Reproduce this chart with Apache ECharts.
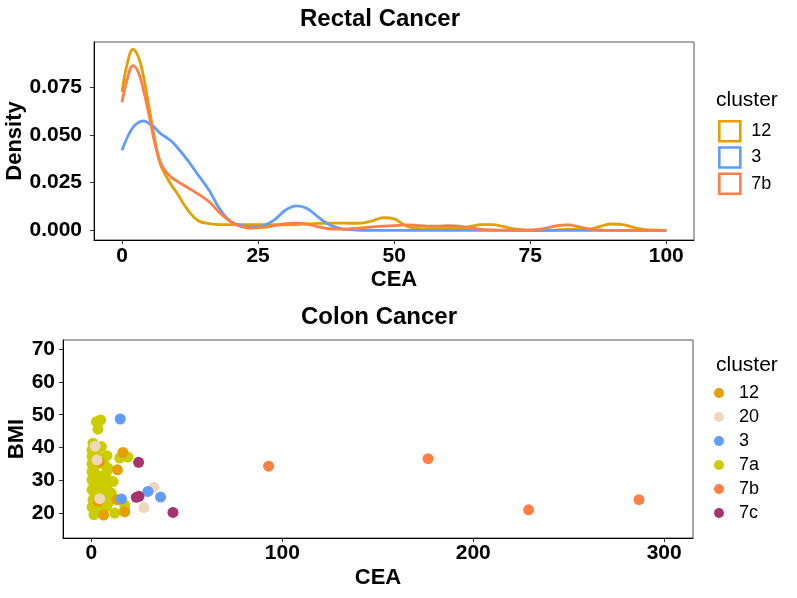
<!DOCTYPE html>
<html>
<head>
<meta charset="utf-8">
<title>Rectal / Colon Cancer</title>
<script src="https://cdn.jsdelivr.net/npm/echarts@6/dist/echarts.min.js"></script>
<style>
  html, body { margin: 0; padding: 0; background: #fff; }
  #main { width: 797px; height: 598px; }
</style>
</head>
<body>
<div id="main"></div>
<script>
// ---- top panel: density of CEA, rectal cancer ----
var ceaGrid = [0,1,2,3,4,5,6,7,8,9,10,12,14,16,18,20,22,24,26,28,30,32,34,36,38,40,42,44,46,48,50,
  52,54,56,58,60,62,64,66,68,70,72,74,76,78,80,82,84,86,88,90,92,94,96,98,100];
var dens12 = [0.0728,0.088,0.095,0.091,0.080,0.064,0.048,0.035,0.029,0.024,0.020,0.011,0.005,0.0035,0.003,0.003,
  0.003,0.003,0.003,0.003,0.0028,0.003,0.0033,0.0036,0.0038,0.0038,0.0037,0.0038,0.005,0.0066,0.006,
  0.0025,0.001,0.0008,0.001,0.0012,0.0012,0.002,0.003,0.003,0.002,0.0008,0.0002,0,0,0.0002,0.0005,0.0004,
  0.0006,0.0022,0.0033,0.003,0.0015,0.0004,0.0001,0];
var dens3 = [0.042,0.049,0.054,0.0567,0.0574,0.056,0.054,0.051,0.049,0.047,0.044,0.037,0.029,0.021,0.011,0.0045,
  0.0025,0.0018,0.0025,0.0055,0.0105,0.0128,0.0115,0.007,0.003,0.001,0.0003,0,0,0,0,
  0,0,0,0,0,0,0,0,0,0,0,0,0,0,0,0,0,0,0,0,0,0,0,0,0];
var dens7b = [0.0672,0.080,0.0865,0.083,0.073,0.060,0.046,0.036,0.031,0.028,0.026,0.0225,0.019,0.015,0.009,0.0045,
  0.0018,0.0012,0.0015,0.0025,0.0035,0.0038,0.0033,0.0018,0.0008,0.0006,0.0008,0.0012,0.0018,0.0022,0.0024,
  0.0028,0.0026,0.0022,0.0022,0.0025,0.0022,0.0012,0.0005,0.0002,0.0001,0,0,0.0003,0.0012,0.0025,0.0028,0.0018,
  0.0006,0.0001,0,0,0,0,0,0];
var densTicksX = [0, 25, 50, 75, 100];
var densTicksY = [0, 0.025, 0.05, 0.075];

// ---- bottom panel: CEA vs BMI, colon cancer ----
var pts12 = [[16.5,38.5],[13.6,33.2],[4.3,35.6],[3.4,23.5],[6.4,19.4],[13.4,24.1],[17.4,20.4]];
var pts20 = [[2.0,40.4],[2.9,36.2],[4.3,24.4],[32.7,27.9],[27.5,21.7]];
var pts3 = [[15.1,48.7],[15.7,24.3],[29.6,26.6],[36.2,24.9]];
var pts7a = [[2.6,47.9],[4.8,48.4],[3.4,45.6],[0.8,41.3],[5.2,40.3],[0.3,39.3],[2.5,38.3],[0.3,37.3],
  [4.3,36.8],[0.8,35.7],[1.7,34.2],[8.1,37.5],[6.9,34.7],[8.7,33.7],[14.8,36.8],[19.1,37.1],[0.3,35.0],
  [0.3,32.7],[2.5,31.7],[5.2,31.2],[7.8,32.2],[0.8,29.6],[3.4,28.6],[6.0,29.1],[9.5,29.6],[11.3,29.6],
  [0.3,30.2],[0.3,27.1],[1.7,26.1],[4.3,25.6],[6.9,26.1],[8.7,26.6],[10.4,26.1],[0.8,24.1],[2.5,23.0],
  [6.0,24.1],[8.7,23.0],[10.4,24.1],[0.3,21.8],[1.7,21.0],[5.2,21.5],[7.8,22.0],[12.2,20.0],[17.4,22.5],
  [17.4,21.0],[1.3,19.5]];
var pts7b = [[92.8,34.3],[176.3,36.6],[229.0,21.0],[286.8,24.1]];
var pts7c = [[24.7,35.5],[23.5,24.8],[24.9,25.1],[42.7,20.2]];
var bmiTicks = [20, 30, 40, 50, 60, 70];
var ceaTicks = [0, 100, 200, 300];

var colors = {
  '12': '#E69F00', '20': '#EED8BA', '3': '#619CFF',
  '7a': '#CCCC00', '7b': '#FF7F45', '7c': '#A8326E'
};

var FONT = "'Liberation Sans', Arial, sans-serif";

function pairs(xs, ys) {
  var out = [];
  for (var i = 0; i < xs.length; i++) out.push([xs[i], ys[i]]);
  return out;
}

function densLine(name, key, ys) {
  return {
    name: name, type: 'line', xAxisIndex: 0, yAxisIndex: 0,
    data: pairs(ceaGrid, ys), smooth: 0.4, showSymbol: false, symbol: 'none',
    lineStyle: { color: colors[key], width: 2.8 }, itemStyle: { color: colors[key] },
    z: 3
  };
}

function dots(key, data) {
  return {
    name: key, type: 'scatter', xAxisIndex: 1, yAxisIndex: 1,
    data: data, symbolSize: 11, itemStyle: { color: colors[key], opacity: 1 }
  };
}

var tickLabel = { fontFamily: FONT, fontWeight: 'bold', fontSize: 21, color: '#000' };
var axisName = { fontFamily: FONT, fontWeight: 'bold', fontSize: 22, color: '#000' };

var myChart = echarts.init(document.getElementById('main'));
var option = {
  animation: false,
  backgroundColor: '#fff',
  grid: [
    { left: 94, top: 42, width: 600, height: 198, outerBoundsMode: 'none', containLabel: false,
      show: true, borderColor: '#555', borderWidth: 1, backgroundColor: '#fff' },
    { left: 63, top: 340, width: 630, height: 198, outerBoundsMode: 'none', containLabel: false,
      show: true, borderColor: '#555', borderWidth: 1, backgroundColor: '#fff' }
  ],
  xAxis: [
    {
      type: 'value', gridIndex: 0, min: -5.15, max: 105.1,
      name: 'CEA', nameLocation: 'middle', nameGap: 29, nameMoveOverlap: false, nameTextStyle: axisName,
      axisLine: { onZero: false, lineStyle: { color: '#000', width: 1 } },
      axisTick: { customValues: densTicksX, length: 4, lineStyle: { color: '#333' } },
      axisLabel: Object.assign({ customValues: densTicksX, margin: 6 }, tickLabel),
      splitLine: { show: false }
    },
    {
      type: 'value', gridIndex: 1, min: -14.9, max: 315.1,
      name: 'CEA', nameLocation: 'middle', nameGap: 29, nameMoveOverlap: false, nameTextStyle: axisName,
      axisLine: { onZero: false, lineStyle: { color: '#000', width: 1 } },
      axisTick: { customValues: ceaTicks, length: 4, lineStyle: { color: '#333' } },
      axisLabel: Object.assign({ customValues: ceaTicks, margin: 5 }, tickLabel),
      splitLine: { show: false }
    }
  ],
  yAxis: [
    {
      type: 'value', gridIndex: 0, min: -0.0051, max: 0.0989,
      name: 'Density', nameLocation: 'middle', nameGap: 68, nameMoveOverlap: false, nameTextStyle: axisName,
      axisLine: { show: true, onZero: false, lineStyle: { color: '#000', width: 1 } },
      axisTick: { show: true, customValues: densTicksY, length: 4, lineStyle: { color: '#333' } },
      axisLabel: Object.assign({
        customValues: densTicksY, margin: 12,
        formatter: function (v) { return v.toFixed(3); }
      }, tickLabel),
      splitLine: { show: false }
    },
    {
      type: 'value', gridIndex: 1, min: 12.4, max: 72.8,
      name: 'BMI', nameLocation: 'middle', nameGap: 35, nameMoveOverlap: false, nameTextStyle: axisName,
      axisLine: { show: true, onZero: false, lineStyle: { color: '#000', width: 1 } },
      axisTick: { show: true, customValues: bmiTicks, length: 4, lineStyle: { color: '#333' } },
      axisLabel: Object.assign({ customValues: bmiTicks, margin: 8 }, tickLabel),
      splitLine: { show: false }
    }
  ],
  legend: [
    {
      orient: 'vertical', left: 718, top: 120, padding: 0,
      itemWidth: 21, itemHeight: 20, itemGap: 3.6, icon: 'rect',
      selectedMode: false,
      formatter: function (n) { return n.slice(1); },
      textStyle: { fontFamily: FONT, fontSize: 18, color: '#000', lineHeight: 18, padding: [0, 0, 0, 6] },
      data: [
        { name: 'd12', itemStyle: { color: '#fff', borderColor: colors['12'], borderWidth: 2.6 } },
        { name: 'd3', itemStyle: { color: '#fff', borderColor: colors['3'], borderWidth: 2.6 } },
        { name: 'd7b', itemStyle: { color: '#fff', borderColor: colors['7b'], borderWidth: 2.6 } }
      ]
    },
    {
      orient: 'vertical', left: 714, top: 384, padding: 0,
      itemWidth: 30, itemHeight: 10, itemGap: 6, icon: 'circle',
      selectedMode: false,
      textStyle: { fontFamily: FONT, fontSize: 18, color: '#000', lineHeight: 18 },
      data: ['12', '20', '3', '7a', '7b', '7c'].map(function (k) {
        return { name: k, itemStyle: { color: colors[k], borderWidth: 0 } };
      })
    }
  ],
  graphic: [
    { type: 'text', x: 380, y: 19, style: { text: 'Rectal Cancer', fontFamily: FONT, fontWeight: 'bold', fontSize: 24, fill: '#000', align: 'center', verticalAlign: 'middle' } },
    { type: 'text', x: 379, y: 317, style: { text: 'Colon Cancer', fontFamily: FONT, fontWeight: 'bold', fontSize: 24, fill: '#000', align: 'center', verticalAlign: 'middle' } },
    { type: 'text', x: 716, y: 100, style: { text: 'cluster', fontFamily: FONT, fontSize: 21, fill: '#000', align: 'left', verticalAlign: 'middle' } },
    { type: 'text', x: 716, y: 365, style: { text: 'cluster', fontFamily: FONT, fontSize: 21, fill: '#000', align: 'left', verticalAlign: 'middle' } }
  ],
  series: [
    densLine('d12', '12', dens12),
    densLine('d3', '3', dens3),
    densLine('d7b', '7b', dens7b),
    // 7a first so the smaller groups sit on top of it
    dots('7a', pts7a),
    dots('12', pts12),
    dots('20', pts20),
    dots('3', pts3),
    dots('7b', pts7b),
    dots('7c', pts7c)
  ]
};
myChart.setOption(option);
</script>
</body>
</html>
